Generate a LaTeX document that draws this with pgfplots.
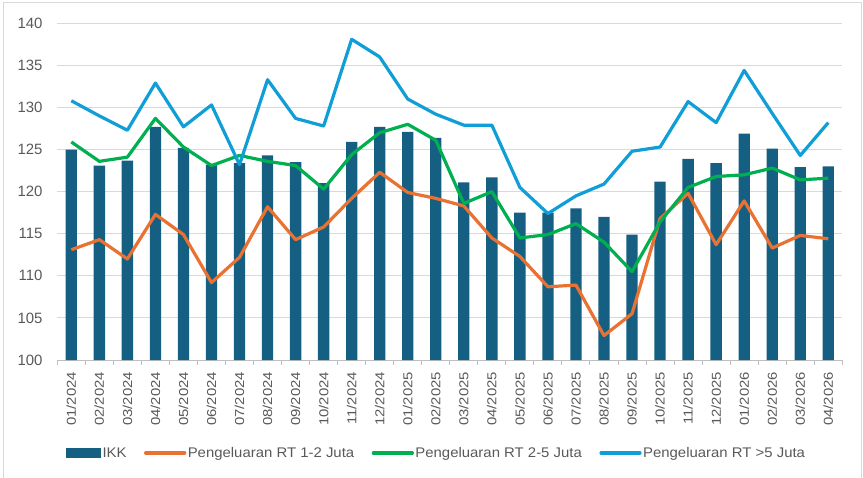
\documentclass[border=0pt]{standalone}
\usepackage{fontspec}
\setmainfont{Liberation Sans}
\newfontfamily\xfont[FakeStretch=1.15]{Liberation Sans}
\newfontfamily\legfont[FakeStretch=1.07]{Liberation Sans}
\usepackage{pgfplots}
\pgfplotsset{compat=1.18}
\usepackage{pgfplotstable}
\definecolor{ikk}{HTML}{156082}
\definecolor{rto}{HTML}{E97132}
\definecolor{rtg}{HTML}{00B050}
\definecolor{rtb}{HTML}{0F9ED5}
\definecolor{tickgray}{HTML}{595959}
\definecolor{gridgray}{HTML}{D9D9D9}
\definecolor{axisgray}{HTML}{BFBFBF}
\pgfplotstableread{
x ikk r12 r25 r5
0 125.0 113.1 125.9 130.8
1 123.1 114.3 123.6 129.0
2 123.7 112.0 124.1 127.3
3 127.7 117.3 128.7 132.9
4 125.2 114.9 125.3 127.7
5 123.2 109.2 123.1 130.3
6 123.4 112.2 124.3 123.2
7 124.3 118.2 123.6 133.3
8 123.5 114.3 123.1 128.7
9 121.0 115.8 120.3 127.8
10 125.9 119.2 124.4 138.1
11 127.7 122.3 127.0 136.0
12 127.1 119.9 128.0 131.0
13 126.4 119.2 126.1 129.2
14 121.1 118.3 118.6 127.9
15 121.7 114.5 120.0 127.9
16 117.5 112.3 114.5 120.5
17 117.5 108.7 114.9 117.4
18 118.0 108.9 116.2 119.5
19 117.0 102.9 114.0 120.9
20 114.9 105.5 110.5 124.8
21 121.2 116.8 116.4 125.3
22 123.9 119.8 120.5 130.7
23 123.4 113.7 121.8 128.2
24 126.9 118.9 122.0 134.4
25 125.1 113.3 122.8 129.3
26 122.9 114.8 121.4 124.3
27 123.0 114.4 121.6 128.2
}\data
\begin{document}
\begin{tikzpicture}[x=1bp,y=1bp]
\begin{axis}[
  at={(57.3bp,118bp)}, anchor=south west,
  scale only axis, width=785bp, height=336.7bp,
  xmin=-0.5, xmax=27.5, ymin=100, ymax=140,
  ytick={100,105,...,140},
  xtick={0,...,27},
  xticklabels={01/2024,02/2024,03/2024,04/2024,05/2024,06/2024,07/2024,08/2024,09/2024,10/2024,11/2024,12/2024,01/2025,02/2025,03/2025,04/2025,05/2025,06/2025,07/2025,08/2025,09/2025,10/2025,11/2025,12/2025,01/2026,02/2026,03/2026,04/2026},
  minor xtick={-0.5,0.5,...,27.5},
  axis lines=left,
  x axis line style={-, draw=axisgray, line width=1bp},
  y axis line style={draw=none},
  ymajorgrids, grid style={draw=gridgray, line width=1bp},
  major tick length=0pt, minor tick length=5bp,
  xtick align=outside,
  minor x tick style={draw=axisgray, line width=1bp},
  ytick style={draw=none},
  /pgf/number format/assume math mode=true,
  xticklabel style={font=\xfont\fontsize{13}{15}\selectfont, rotate=90, anchor=east, inner sep=0pt, text=tickgray},
  xticklabel shift=11.7bp,
  yticklabel style={font=\fontsize{15}{18}\selectfont, inner sep=0pt, text=tickgray, anchor=east},
  yticklabel shift=14.6bp,
  legend columns=4,
  legend style={at={(0.0111,-0.2762)}, anchor=west, draw=none, fill=none, inner sep=0pt, outer sep=0pt,
    font=\legfont\fontsize{14}{16}\selectfont, text=tickgray,
    nodes={inner xsep=1.5bp, inner ysep=0pt},
    column sep=0pt,
    /tikz/every even column/.append style={column sep=16bp}},
  clip=false,
]
\addplot[ybar, bar width=11.3bp, fill=ikk, draw=none,
  legend image code/.code={\fill[ikk] (0bp,-4.7bp) rectangle (35bp,4.7bp);}]
  table[x=x,y=ikk]{\data};
\addlegendentry{IKK}
\addplot[rto, line width=3.2bp, line join=round,
  legend image code/.code={\path (0bp,0bp) rectangle (39bp,0bp); \draw[line cap=round] (1.6bp,0bp) -- (37.4bp,0bp);}]
  table[x=x,y=r12]{\data};
\addlegendentry{Pengeluaran RT 1-2 Juta}
\addplot[rtg, line width=3.2bp, line join=round,
  legend image code/.code={\path (0bp,0bp) rectangle (39bp,0bp); \draw[line cap=round] (1.6bp,0bp) -- (37.4bp,0bp);}]
  table[x=x,y=r25]{\data};
\addlegendentry{Pengeluaran RT 2-5 Juta}
\addplot[rtb, line width=3.2bp, line join=round,
  legend image code/.code={\path (0bp,0bp) rectangle (39bp,0bp); \draw[line cap=round] (1.6bp,0bp) -- (37.4bp,0bp);}]
  table[x=x,y=r5]{\data};
\addlegendentry{Pengeluaran RT >5 Juta}
\end{axis}
\draw[gridgray, line width=1bp] (3bp,-2bp) -- (3bp,475bp) -- (861bp,475bp) -- (861bp,-2bp);
\pgfresetboundingbox
\path (0bp,0bp) rectangle (863bp,478bp);
\end{tikzpicture}
\end{document}
